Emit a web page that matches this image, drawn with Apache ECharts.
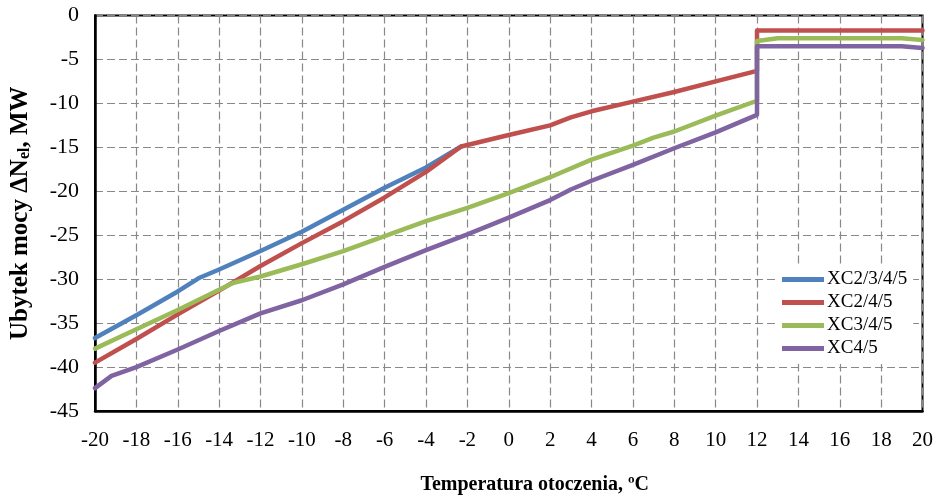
<!DOCTYPE html>
<html>
<head>
    <meta charset="utf-8">
    <title>Ubytek mocy</title>
    <script src="https://cdn.jsdelivr.net/npm/echarts@6/dist/echarts.min.js"></script>
    <style>
        body { margin: 0; background: #fff; }
        #main { width: 940px; height: 500px; }
    </style>
</head>
<body>
<div id="main"></div>
<script type="text/javascript">
    // dane: [temperatura, ubytek mocy]
    var seriesNames = ['XC2/3/4/5', 'XC2/4/5', 'XC3/4/5', 'XC4/5'];
    var xc2345 = [[-20,-36.7],[-18,-34.1],[-16,-31.4],[-15,-29.9],[-14,-28.9],[-12,-26.8],[-10,-24.6],
        [-8,-22.1],[-6,-19.6],[-4,-17.3],[-2.3,-14.9]];
    var xc245 = [[-20,-39.5],[-18,-36.8],[-16,-34.0],[-14,-31.3],[-12,-28.5],[-10,-25.9],[-8,-23.4],
        [-6,-20.7],[-4,-17.8],[-2.3,-14.9],[0,-13.6],[2,-12.5],[3,-11.6],[4,-10.9],[6,-9.8],[8,-8.7],
        [10,-7.5],[12,-6.3],[12,-1.7],[20,-1.7]];
    var xc345 = [[-20,-37.9],[-18,-35.7],[-16,-33.5],[-14,-31.2],[-13.3,-30.4],[-12,-29.7],[-10,-28.3],
        [-8,-26.8],[-6,-25.1],[-4,-23.4],[-2,-21.9],[0,-20.2],[2,-18.4],[4,-16.4],[6,-14.8],[7,-13.9],
        [8,-13.2],[10,-11.4],[12,-9.7],[12,-2.9],[13,-2.6],[19,-2.6],[20,-2.8]];
    var xc45 = [[-20,-42.4],[-19.2,-41.0],[-18,-40.0],[-16,-38.0],[-14,-35.9],[-12,-33.9],[-10,-32.4],
        [-8,-30.6],[-6,-28.6],[-4,-26.7],[-2,-24.9],[0,-23.0],[2,-21.0],[3,-19.8],[4,-18.8],[6,-17.0],
        [8,-15.1],[10,-13.3],[12,-11.3],[12,-3.5],[19,-3.5],[20,-3.7]];
    var colors = ['#4F81BD', '#C0504D', '#9BBB59', '#8064A2'];

    var serif = '"Liberation Serif", "Times New Roman", serif';
    var myChart = echarts.init(document.getElementById('main'));

    function makeSeries(name, data, color) {
        return {
            name: name,
            type: 'line',
            data: data,
            symbol: 'none',
            animation: false,
            lineStyle: { color: color, width: 4.5, cap: 'round', join: 'round' },
            itemStyle: { color: color }
        };
    }

    var option = {
        animation: false,
        grid: {
            left: 94.5, right: 17.5, top: 15.5, bottom: 88.5,
            show: true, borderColor: '#000', borderWidth: 2
        },
        legend: {
            orient: 'vertical',
            left: 776, top: 264,
            backgroundColor: '#fff',
            padding: [6, 6, 6, 6],
            itemWidth: 42, itemHeight: 12, itemGap: 4,
            icon: 'path://M0,0 L42,0 L42,5 L0,5 Z',
            data: seriesNames,
            textStyle: { fontFamily: serif, fontSize: 19, color: '#000', padding: [0, 0, 0, -2] }
        },
        xAxis: {
            type: 'value',
            min: -20, max: 20, interval: 2,
            name: 'Temperatura otoczenia, \u00baC',
            nameLocation: 'middle',
            nameGap: 64,
            nameTextStyle: { fontFamily: serif, fontSize: 20, fontWeight: 'bold', color: '#000', padding: [0, 0, 0, 52] },
            axisLine: { onZero: false, lineStyle: { color: '#000', width: 2.5 } },
            axisTick: { show: false },
            axisLabel: { fontFamily: serif, fontSize: 21, color: '#000', margin: 19 },
            splitLine: { lineStyle: { color: '#888', type: [8, 4], width: 1.2 } }
        },
        yAxis: {
            type: 'value',
            min: -45, max: 0, interval: 5,
            name: '{b|Ubytek mocy \u0394N}{s|el}{b|, MW}',
            nameLocation: 'middle',
            nameGap: 62,
            nameTextStyle: {
                rich: {
                    b: { fontFamily: serif, fontSize: 25, fontWeight: 'bold', color: '#000' },
                    s: { fontFamily: serif, fontSize: 16, fontWeight: 'bold', color: '#000', padding: [9, 0, 0, 0] }
                }
            },
            axisLine: { onZero: false, lineStyle: { color: '#000', width: 2.5 } },
            axisTick: { show: false },
            axisLabel: { fontFamily: serif, fontSize: 22, color: '#000', margin: 16 },
            splitLine: { lineStyle: { color: '#888', type: [8, 4], width: 1.2 } }
        },
        series: [
            makeSeries(seriesNames[0], xc2345, colors[0]),
            makeSeries(seriesNames[1], xc245, colors[1]),
            makeSeries(seriesNames[2], xc345, colors[2]),
            makeSeries(seriesNames[3], xc45, colors[3])
        ]
    };

    myChart.setOption(option);
</script>
</body>
</html>
